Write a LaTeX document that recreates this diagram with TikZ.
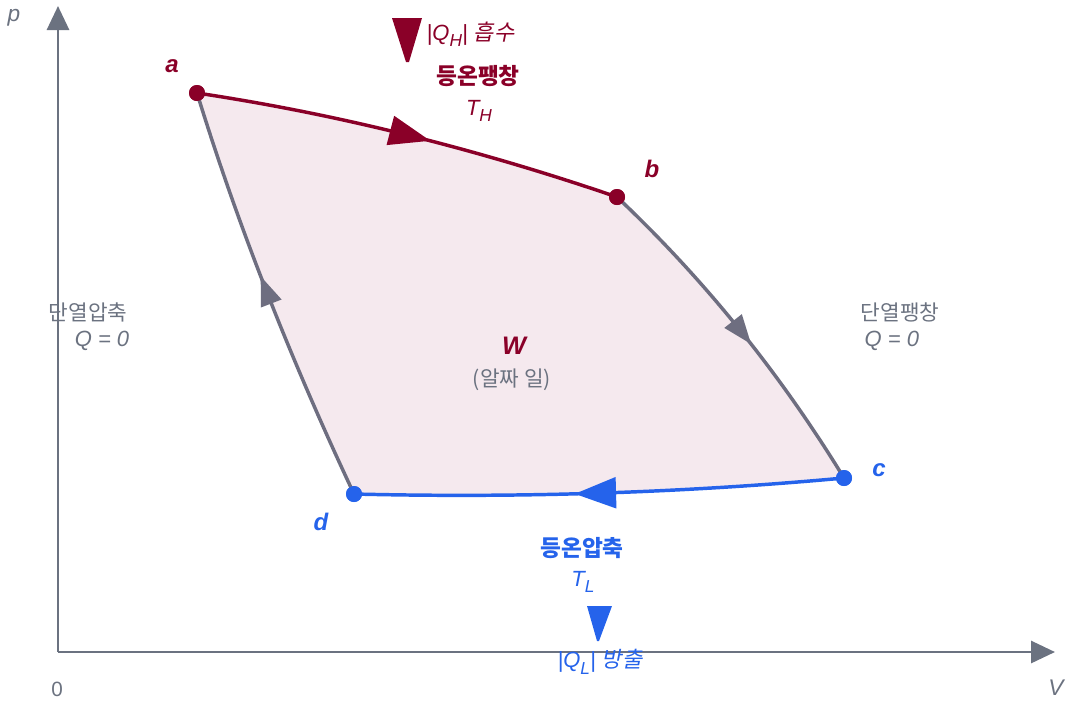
\documentclass[tikz,border=0pt]{standalone}
\usepackage{fontspec}
\setmainfont{Liberation Sans}
\newfontfamily\kr{Noto Sans CJK KR}
\newfontfamily\krit[FakeSlant=0.2]{Noto Sans CJK KR}
\usetikzlibrary{arrows.meta,decorations.markings}
\definecolor{hot}{HTML}{8A0028}
\definecolor{cold}{HTML}{2563EB}
\definecolor{axisgray}{HTML}{6B7280}
\definecolor{curvegray}{HTML}{6E6E80}
\definecolor{pinkfill}{HTML}{F5E9EE}
\definecolor{txtgray}{HTML}{6B7280}
\newcommand{\sbs}[1]{\raisebox{-0.55ex}{\fontsize{13}{13}\selectfont #1}}
\tikzset{
  axisline/.style={draw=axisgray,line width=2.2pt,-{Triangle[length=18pt,width=16.5pt]}},
  midarrow/.style 2 args={postaction={decorate},decoration={markings,
     mark=at position 0.55 with {\arrow{Triangle[length=#1,width=#2]}}}},
  dot/.style={circle,inner sep=0pt,minimum size=12pt},
  ptlabel/.style={font=\fontsize{18}{20}\selectfont\bfseries\itshape},
  ittxt/.style={font=\fontsize{16.5}{18}\selectfont\itshape},
  krbold/.style={font=\fontsize{17}{20}\selectfont\kr\bfseries},
  krtxt/.style={font=\fontsize{16}{18}\selectfont\kr},
}
\begin{document}
\begin{tikzpicture}[x=0.75pt,y=-0.75pt]
\useasboundingbox (0,0) rectangle (1066,701);
\coordinate (o) at (58,652);
\coordinate (ytip) at (58,6);
\coordinate (xtip) at (1055,652);
% fill
\fill[pinkfill] (197,93) .. controls (337,114) and (477,149) .. (617,197)
  .. controls (706,281) and (781,375) .. (844,478)
  .. controls (681,493) and (517,498) .. (354,494)
  .. controls (291,360) and (238,226) .. (197,93) -- cycle;
% axes
\draw[axisline] (o) -- (ytip);
\draw[axisline] (o) -- (xtip);
% nodes
\node[dot,fill=hot] (a) at (197,93) {};
\node[dot,fill=hot] (b) at (617,197) {};
\node[dot,fill=cold] (c) at (844,478) {};
\node[dot,fill=cold] (d) at (354,494) {};
% curves
\draw[hot,line width=2.6pt,midarrow={31pt}{22pt}] (a.center) .. controls (337,114) and (477,149) .. (b.center);
\draw[curvegray,line width=2.6pt,midarrow={22pt}{16pt}] (b.center) .. controls (706,281) and (781,375) .. (c.center);
\draw[cold,line width=2.6pt,midarrow={31pt}{23pt}] (c.center) .. controls (681,493) and (517,498) .. (d.center);
\draw[curvegray,line width=2.6pt,midarrow={22pt}{16pt}] (d.center) .. controls (291,360) and (238,226) .. (a.center);
\node[dot,fill=hot] at (a) {};
\node[dot,fill=hot] at (b) {};
\node[dot,fill=cold] at (c) {};
\node[dot,fill=cold] at (d) {};
% point labels
\node[ptlabel,hot] (la) at (172,66) {a};
\node[ptlabel,hot] (lb) at (652,169) {b};
\node[ptlabel,cold] (lc) at (879,470) {c};
\node[ptlabel,cold] (ld) at (321,522) {d};
% axis labels
\node[txtgray,font=\fontsize{17}{18}\selectfont\itshape] (lp) at (14,18) {p};
\node[txtgray,font=\fontsize{15.5}{18}\selectfont] (l0) at (57,689) {0};
\node[txtgray,font=\fontsize{17}{18}\selectfont\itshape] (lV) at (1056,688) {V};
% hot reservoir
\fill[hot] (392,18) -- (422,18) -- (409,62) -- (406,62) -- cycle;
\node[hot,anchor=west,ittxt] (qh) at (422,34) {|Q\sbs{H}| {\krit 흡수}};
\node[hot,krbold] (iso1) at (478,76) {등온팽창};
\node[hot,ittxt] (th) at (479,111) {T\sbs{H}};
% cold reservoir
\node[cold,krbold] (iso2) at (582,548) {등온압축};
\node[cold,ittxt] (tl) at (583,582) {T\sbs{L}};
\fill[cold] (587,606) -- (612,606) -- (599,641) -- (597,641) -- cycle;
\node[cold,ittxt] (ql) at (600,662) {|Q\sbs{L}| {\krit 방출}};
% adiabats
\node[txtgray,krtxt] (ad1) at (88,312) {단열압축};
\node[txtgray,ittxt] (q1) at (102,341) {Q = 0};
\node[txtgray,krtxt] (ad2) at (900,312) {단열팽창};
\node[txtgray,ittxt,anchor=west] (q2) at (860,341) {Q = 0};
% work
\node[hot,font=\fontsize{19}{20}\selectfont\bfseries\itshape] (w) at (514,346) {W};
\node[txtgray,krtxt] (wl) at (512,380) {(알짜 일)};
\end{tikzpicture}
\end{document}
